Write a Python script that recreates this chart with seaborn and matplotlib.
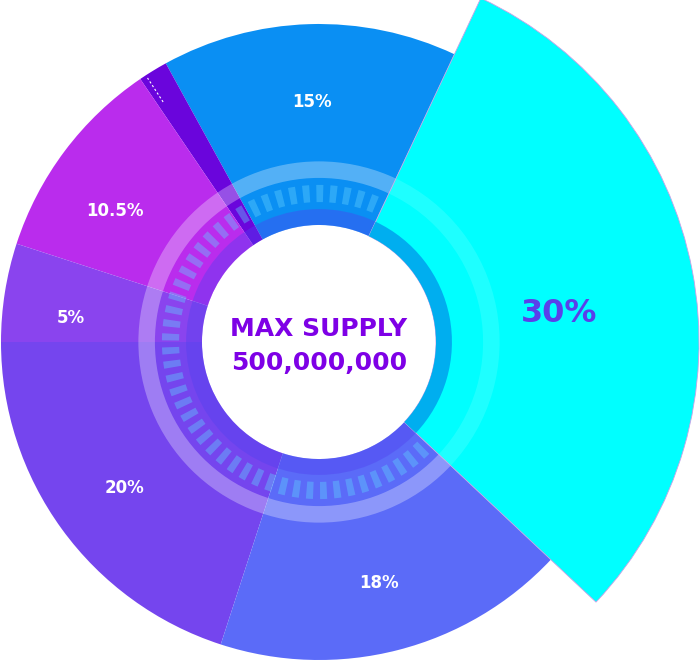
import numpy as np
import matplotlib
matplotlib.use("Agg")
import matplotlib.pyplot as plt
import seaborn as sns
from matplotlib.patches import Wedge

# Reparto del suministro (en %), en sentido antihorario desde la izquierda
labels = ["20%", "18%", "30%", "15%", "", "10.5%", "5%"]
values = [20, 18, 30, 15, 1.5, 10.5, 5]
colors = ["#7545EE", "#5B6BF8", "#00FFFF", "#0A8FF3", "#6A05DC", "#BA2CED", "#8A44EE"]
center_title = "MAX SUPPLY"
center_value = "500,000,000"

sns.set_theme(style="white")
plt.rcParams['font.family'] = ['DejaVu Sans']

fig = plt.figure(figsize=(7, 6.63), dpi=100)
ax = fig.add_axes([0, 0, 1, 1])

r_in = 0.368
wedges, texts = ax.pie(values, labels=labels, colors=colors, startangle=180,
                       counterclock=True, radius=1.0, labeldistance=0.77,
                       wedgeprops=dict(width=1 - r_in, linewidth=0),
                       textprops=dict(color="white", fontsize=12, fontweight="bold"))

# pequenos ajustes de las etiquetas (px: derecha, abajo)
nudges = [(4, 2), (-1, 4), (0, 17), (1, 5), (0, 0), (-8, 16), (-6, 14)]
for t, (dx, dy) in zip(texts, nudges):
    x, y = t.get_position()
    t.set_position((x + dx / 318, y - dy / 318))
    t.set_ha("center")
    t.set_va("center")
    t.set_zorder(7)

# el 30% sobresale del resto
big = values.index(max(values))
wb = wedges[big]
wb.set_radius(1.195)
wb.set_width(1.195 - r_in)
wb.set_zorder(3)
wb.set_edgecolor("#C9A0E6")
wb.set_linewidth(0.6)
texts[big].set_color("#5A40EA")
texts[big].set_fontsize(23)

# anillo de marcas (queda debajo del 30%)
for a in np.arange(0, 360, 5.2):
    ax.add_patch(Wedge((0, 0), 0.494, a, a + 2.6, width=0.054,
                       facecolor="#60D0FF", alpha=0.4, lw=0, zorder=2))
# banda interior oscura y banda clara
ax.add_patch(Wedge((0, 0), 0.418, 0, 360, width=0.05, facecolor="#5040F0",
                   alpha=0.4, lw=0, zorder=2.5))
ax.add_patch(Wedge((0, 0), 0.568, 0, 360, width=0.052, facecolor="white",
                   alpha=0.3, lw=0, zorder=2.5))
# sobre el 30%
ax.add_patch(Wedge((0, 0), 0.418, wb.theta1, wb.theta2, width=0.05,
                   facecolor="#00AEEF", lw=0, zorder=4))
ax.add_patch(Wedge((0, 0), 0.568, wb.theta1, wb.theta2, width=0.052,
                   facecolor="white", alpha=0.12, lw=0, zorder=4))

# linea discontinua en la porcion pequena
small = values.index(min(values))
ang = np.deg2rad(wedges[small].theta2 - 1.2)
ax.plot([0.9 * np.cos(ang), 0.99 * np.cos(ang)], [0.9 * np.sin(ang), 0.99 * np.sin(ang)],
        color="white", lw=0.8, ls=(0, (2, 2)), zorder=5)

ax.text(0, 0.041, center_title, ha="center", va="center", fontsize=18,
        fontweight="bold", color="#7E00E6", zorder=8)
ax.text(0, -0.066, center_value, ha="center", va="center", fontsize=18,
        fontweight="bold", color="#7E00E6", zorder=8)

ax.set_xlim(-319 / 318, 381 / 318)
ax.set_ylim(-321 / 318, 342 / 318)
ax.set_aspect("equal")
ax.axis("off")
fig.savefig("out.png", dpi=100, facecolor="white")
